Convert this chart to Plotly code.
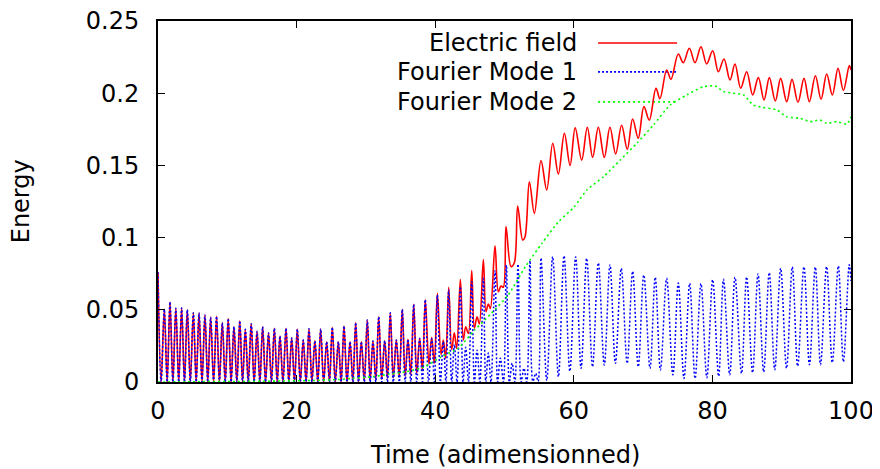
import plotly.graph_objects as go

# ---------------- data ----------------
# Early region (t <= 38.6): electric field and mode 1 coincide (peaks)
early_peak_t = [0.0, 0.91, 1.73, 2.57, 3.41, 4.23, 5.10, 5.92, 6.77, 7.60, 8.45, 9.28,
                10.13, 10.96, 11.80, 12.60, 13.45, 14.29, 15.10, 15.95, 16.79, 17.60,
                18.47, 19.29, 20.10, 20.96, 21.79, 22.64, 23.47, 24.34, 25.15, 26.02,
                26.84, 27.71, 28.53, 29.34, 30.20, 31.02, 31.85, 32.71, 33.52, 34.39,
                35.25, 36.07, 36.90, 37.76, 38.57]
early_peak_v = [0.076, 0.0503, 0.0554, 0.0511, 0.0513, 0.0500, 0.0480, 0.0478, 0.0464,
                0.0448, 0.0455, 0.0411, 0.0440, 0.0383, 0.0424, 0.0365, 0.0404, 0.0351,
                0.0383, 0.0340, 0.0372, 0.0318, 0.0372, 0.0304, 0.0366, 0.0290, 0.0369,
                0.0285, 0.0367, 0.0279, 0.0379, 0.0279, 0.0388, 0.0279, 0.0411, 0.0279,
                0.0429, 0.0284, 0.0452, 0.0286, 0.0480, 0.0291, 0.0503, 0.0295, 0.0538,
                0.0302, 0.0570]
early_trough_t = [0.45, 1.32, 2.15, 2.99, 3.82, 4.66, 5.51, 6.35, 7.18, 8.02,
                  8.86, 9.70, 10.55, 11.38, 12.20, 13.02, 13.87, 14.70, 15.52, 16.37,
                  17.20, 18.03, 18.88, 19.70, 20.53, 21.37, 22.21, 23.05, 23.90, 24.74,
                  25.58, 26.43, 27.27, 28.12, 28.93, 29.77, 30.61, 31.43, 32.28, 33.11,
                  33.95, 34.82, 35.66, 36.48, 37.33, 38.16]
efield_early_trough_v = [0.0, 0.0, 0.0, 0.0, 0.0, 0.0, 0.0, 0.0, 0.0, 0.0,
                         0.0, 0.0, 0.0, 0.0, 0.0, 0.0, 0.0, 0.0, 0.0, 0.0,
                         0.0, 0.0, 0.0, 0.0, 0.0, 0.0, 0.0, 0.0, 0.0, 0.0,
                         0.0, 0.0, 0.0, 0.0, 0.0, 0.0005, 0.001, 0.0015, 0.002, 0.0025,
                         0.003, 0.0035, 0.004, 0.005, 0.006, 0.008]
mode1_early_trough_v = [0.0, 0.0, 0.0, 0.0, 0.0, 0.0, 0.0, 0.0, 0.0, 0.0,
                        0.0, 0.0, 0.0, 0.0, 0.0, 0.0, 0.0, 0.0, 0.0, 0.0,
                        0.0, 0.0, 0.0, 0.0, 0.0, 0.0, 0.0, 0.0, 0.0, 0.0,
                        0.0, 0.0, 0.0, 0.0, 0.0, 0.0, 0.0, 0.0, 0.0, 0.0,
                        0.0, 0.0, 0.0, 0.0, 0.0, 0.0]

# Electric field, later region (extrema)
efield_late_t = [39.10, 39.49, 39.88, 40.31, 40.84, 41.17, 41.51, 41.95, 42.38, 42.76,
                 43.10, 43.63, 44.06, 44.40, 44.79, 45.27, 45.65, 46.04, 46.37, 46.95,
                 47.33, 47.67, 47.96, 48.63, 49.11, 49.50, 49.83, 50.22, 50.94, 51.42,
                 51.90, 52.62, 52.96, 53.59, 54.31, 55.27, 56.09, 56.96, 57.77, 58.64,
                 59.46, 60.20, 61.14, 61.95, 62.72, 63.54, 64.40, 65.22, 66.04, 66.90,
                 67.72, 68.49, 69.30, 70.12, 70.89, 71.86, 72.43, 73.40, 74.02, 75.08,
                 75.80, 76.67, 77.49, 78.35, 79.17, 80.04, 80.86, 81.67, 82.54, 83.26,
                 84.08, 84.95, 85.81, 86.63, 87.45, 88.22, 89.08, 89.85, 90.72, 91.49,
                 92.35, 93.22, 93.99, 94.86, 95.68, 96.49, 97.31, 98.13, 98.90, 99.76,
                 100.0]
efield_late_v = [0.0125, 0.0310, 0.0130, 0.0614, 0.0190, 0.0291, 0.0164, 0.0656, 0.0226, 0.0341,
                 0.0233, 0.0711, 0.0291, 0.0383, 0.0337, 0.0771, 0.0372, 0.0452, 0.0402, 0.0848,
                 0.0487, 0.0540, 0.0510, 0.0944, 0.0625, 0.0665, 0.0656, 0.1076, 0.0799, 0.0826,
                 0.1219, 0.0983, 0.1006, 0.1387, 0.1168, 0.1533, 0.1330, 0.1653, 0.1440, 0.1722,
                 0.1500, 0.1760, 0.1537, 0.1764, 0.1556, 0.1764, 0.1556, 0.1764, 0.1579, 0.1778,
                 0.1611, 0.1821, 0.1688, 0.1907, 0.1814, 0.2034, 0.1962, 0.2161, 0.2096, 0.2271,
                 0.2211, 0.2311, 0.2211, 0.2322, 0.2202, 0.2294, 0.2149, 0.2237, 0.2091, 0.2202,
                 0.2034, 0.2149, 0.1988, 0.2108, 0.1953, 0.2108, 0.1946, 0.2103, 0.1941, 0.2096,
                 0.1937, 0.2103, 0.1941, 0.2121, 0.1958, 0.2133, 0.1988, 0.2172, 0.2019, 0.2191,
                 0.2160]

# Fourier mode 1, later region (extrema)
mode1_late_t = [39.03, 39.49, 39.88, 40.31, 40.75, 41.17, 41.55, 41.95, 42.38, 42.76,
                43.15, 43.63, 44.02, 44.40, 44.80, 45.27, 45.65, 46.04, 46.45, 46.95,
                47.30, 47.67, 48.05, 48.63, 49.00, 49.40, 49.85, 50.27, 50.70, 51.10,
                51.50, 51.95, 52.40, 52.80, 53.20, 53.68, 54.10, 54.50, 54.85, 55.27,
                56.10, 56.95, 57.78, 58.59, 59.43, 60.27, 61.05, 61.86, 62.70, 63.54,
                64.40, 65.22, 66.00, 66.85, 67.70, 68.49, 69.30, 70.10, 71.00, 71.75,
                72.50, 73.40, 74.30, 75.08, 75.90, 76.72, 77.50, 78.35, 79.20, 80.04,
                80.90, 81.60, 82.50, 83.26, 84.20, 84.94, 85.80, 86.58, 87.40, 88.20,
                89.00, 89.85, 90.70, 91.53, 92.30, 93.21, 94.00, 94.85, 95.60, 96.48,
                97.30, 98.17, 98.90, 99.75, 100.0]
mode1_late_v = [0.0, 0.0300, 0.0, 0.0603, 0.0, 0.0280, 0.0, 0.0637, 0.0, 0.0260,
                0.0, 0.0660, 0.0, 0.0240, 0.0, 0.0695, 0.0, 0.0220, 0.0, 0.0718,
                0.0, 0.0200, 0.0, 0.0770, 0.0, 0.0165, 0.0, 0.0810, 0.0, 0.0130,
                0.0, 0.0815, 0.0, 0.0095, 0.0, 0.0840, 0.0005, 0.0060, 0.0005, 0.0858,
                0.0010, 0.0868, 0.0037, 0.0873, 0.0075, 0.0866, 0.0095, 0.0856, 0.0106, 0.0824,
                0.0118, 0.0811, 0.0129, 0.0787, 0.0129, 0.0766, 0.0106, 0.0740, 0.0095, 0.0725,
                0.0083, 0.0718, 0.0050, 0.0685, 0.0025, 0.0683, 0.0025, 0.0681, 0.0030, 0.0708,
                0.0040, 0.0711, 0.0050, 0.0725, 0.0060, 0.0727, 0.0065, 0.0748, 0.0070, 0.0757,
                0.0085, 0.0787, 0.0095, 0.0797, 0.0110, 0.0797, 0.0120, 0.0795, 0.0120, 0.0799,
                0.0135, 0.0803, 0.0140, 0.0812, 0.0700]

# Fourier mode 2
mode2_t = [0, 5, 10, 15, 18, 22, 26, 28, 31, 33.4, 35.8, 38.3, 40.9, 43.3, 45.7, 48.1,
           50.5, 53.0, 55.4, 57.8, 60.0, 61.9, 64.3, 66.7, 69.1, 71.5, 73.9, 76.3, 78.7,
           80.4, 81.6, 83.0, 84.5, 85.9, 87.3, 89.3, 90.7, 92.6, 94.1, 95.5, 96.5, 97.9,
           99.4, 100.0]
mode2_v = [0.0, 0.0002, 0.0003, 0.0005, 0.0007, 0.001, 0.0017, 0.0025, 0.0037, 0.0055,
           0.0071, 0.0102, 0.0175, 0.0233, 0.036, 0.0476, 0.0600, 0.0798, 0.096, 0.111,
           0.121, 0.133, 0.1422, 0.1537, 0.1653, 0.178, 0.1918, 0.1988, 0.2045, 0.205,
           0.2011, 0.2, 0.1988, 0.1918, 0.1902, 0.1884, 0.1837, 0.1826, 0.1803, 0.1814,
           0.1791, 0.1803, 0.1787, 0.1837]

series_names = ["Electric field", "Fourier Mode 1", "Fourier Mode 2"]
x_tick_vals = [0, 20, 40, 60, 80, 100]
x_tick_text = ["0", "20", "40", "60", "80", "100"]
y_tick_vals = [0, 0.05, 0.1, 0.15, 0.2, 0.25]
y_tick_text = ["0", "0.05", "0.1", "0.15", "0.2", "0.25"]
x_title = "Time (adimensionned)"
y_title = "Energy"


def merge(*pairs):
    pts = []
    for ts, vs in pairs:
        assert len(ts) == len(vs), (len(ts), len(vs))
        pts.extend(zip(ts, vs))
    pts.sort(key=lambda p: p[0])
    return [p[0] for p in pts], [p[1] for p in pts]


ef_t, ef_v = merge((early_peak_t, early_peak_v), (early_trough_t, efield_early_trough_v),
                   (efield_late_t, efield_late_v))
m1_t, m1_v = merge((early_peak_t, early_peak_v), (early_trough_t, mode1_early_trough_v),
                   (mode1_late_t, mode1_late_v))
m2_t, m2_v = merge((mode2_t, mode2_v))

colors = ["#ff0000", "#0000ff", "#00ff00"]
dashes = ["solid", "2px,2px", "2px,3px"]
FONT = "DejaVu Sans"

fig = go.Figure()
fig.add_trace(go.Scatter(x=ef_t, y=ef_v, mode="lines", name=series_names[0],
                         line=dict(color=colors[0], width=1.6, shape="spline", smoothing=1.0)))
fig.add_trace(go.Scatter(x=m1_t, y=m1_v, mode="lines", name=series_names[1],
                         line=dict(color=colors[1], width=1.5, shape="spline", smoothing=1.0,
                                   dash=dashes[1])))
fig.add_trace(go.Scatter(x=m2_t, y=m2_v, mode="lines", name=series_names[2],
                         line=dict(color=colors[2], width=1.6, shape="spline", smoothing=0.6,
                                   dash=dashes[2])))

axis_common = dict(showgrid=False, zeroline=False, showline=True, linecolor="black",
                   linewidth=2, mirror="ticks", ticks="inside", ticklen=7, tickwidth=1,
                   tickcolor="black", automargin=False, ticklabeloverflow="allow",
                   tickfont=dict(family=FONT, size=24, color="black"))
fig.update_xaxes(range=[0, 100], tickvals=x_tick_vals, ticktext=x_tick_text,
                 ticklabelstandoff=6, **axis_common)
fig.update_yaxes(range=[0, 0.25], tickvals=y_tick_vals, ticktext=y_tick_text,
                 ticklabelstandoff=12, **axis_common)

annotations = [
    dict(text=y_title, x=-0.198, y=0.5, xref="paper", yref="paper", textangle=-90,
         showarrow=False, xanchor="center", yanchor="middle",
         font=dict(family=FONT, size=24, color="black")),
    dict(text=x_title, x=0.5, y=-0.202, xref="paper", yref="paper",
         showarrow=False, xanchor="center", yanchor="middle",
         font=dict(family=FONT, size=24, color="black")),
]
legend_y = [0.939, 0.859, 0.776]
shapes = []
for name, ly, col, dash in zip(series_names, legend_y, colors, dashes):
    annotations.append(dict(text=name, x=0.6075, y=ly, xref="paper", yref="paper",
                            showarrow=False, xanchor="right", yanchor="middle",
                            font=dict(family=FONT, size=24, color="black")))
    shapes.append(dict(type="line", xref="paper", yref="paper", x0=0.635, x1=0.749,
                       y0=ly, y1=ly, layer="below",
                       line=dict(color=col, width=1.6, dash=dash)))

# the page body has an 8px margin, so the figure is sized to end at 880x469
fig.update_layout(width=872, height=461, margin=dict(l=150, r=29, t=13, b=87, pad=0),
                  autosize=False,
                  paper_bgcolor="white", plot_bgcolor="white", showlegend=False,
                  font=dict(family=FONT, size=24, color="black"),
                  annotations=annotations, shapes=shapes)

fig.write_html("out.html")
